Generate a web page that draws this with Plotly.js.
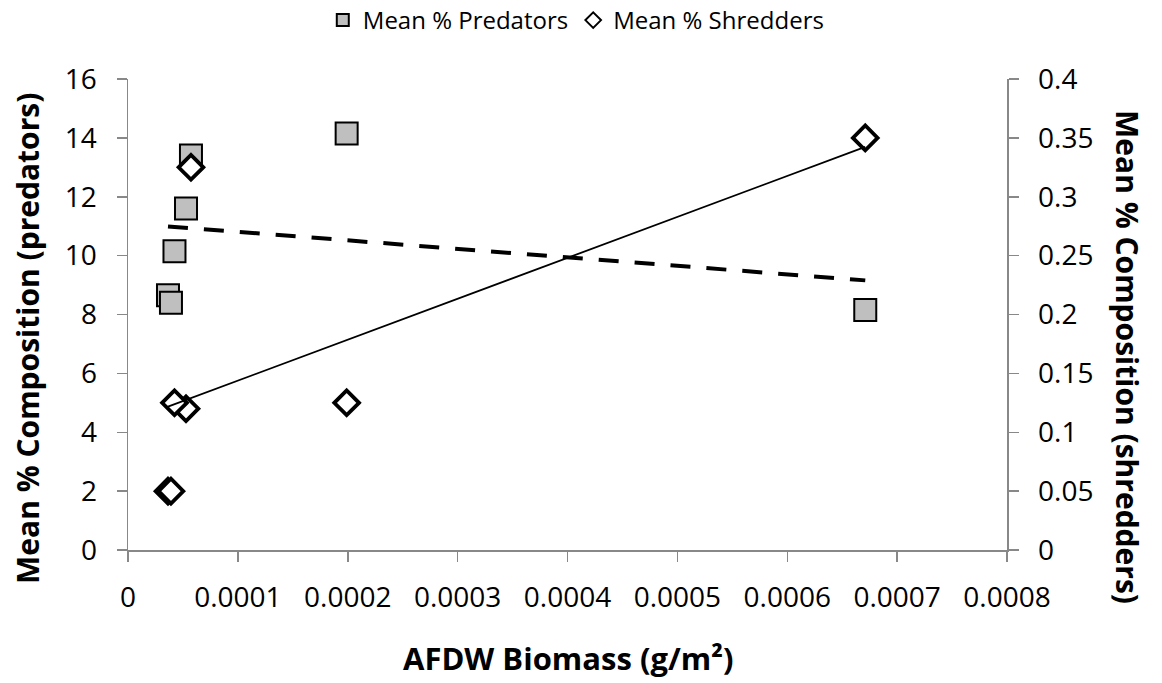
<!DOCTYPE html>
<html>
<head>
<meta charset="utf-8">
<script src="https://cdn.plot.ly/plotly-3.0.1.min.js"></script>
<style>html,body{margin:0;padding:0;background:#fff;}#chart{width:1162px;height:683px;}</style>
</head>
<body>
<div id="chart"></div>
<script>
// Data
var biomass = [0.0000573, 0.0000528, 0.0000423, 0.0000364, 0.0000391, 0.000199, 0.000671];
var predators = [13.4, 11.6, 10.15, 8.65, 8.4, 14.15, 8.15];
var shredders = [0.325, 0.12, 0.125, 0.05, 0.05, 0.125, 0.35];
var xTickVals = [0, 0.0001, 0.0002, 0.0003, 0.0004, 0.0005, 0.0006, 0.0007, 0.0008];
var xTickText = ["0", "0.0001", "0.0002", "0.0003", "0.0004", "0.0005", "0.0006", "0.0007", "0.0008"];
var yTickVals = [0, 2, 4, 6, 8, 10, 12, 14, 16];
var y2TickVals = [0, 0.05, 0.1, 0.15, 0.2, 0.25, 0.3, 0.35, 0.4];
var y2TickText = ["0", "0.05", "0.1", "0.15", "0.2", "0.25", "0.3", "0.35", "0.4"];

function linfit(xs, ys) {
  var n = xs.length, mx = 0, my = 0;
  for (var i = 0; i < n; i++) { mx += xs[i]; my += ys[i]; }
  mx /= n; my /= n;
  var sxy = 0, sxx = 0;
  for (var j = 0; j < n; j++) { sxy += (xs[j]-mx)*(ys[j]-my); sxx += (xs[j]-mx)*(xs[j]-mx); }
  var b = sxy / sxx, a = my - b*mx;
  var x0 = Math.min.apply(null, xs), x1 = Math.max.apply(null, xs);
  return {x: [x0, x1], y: [a + b*x0, a + b*x1]};
}
var fitP = linfit(biomass, predators);
var fitS = linfit(biomass, shredders);

var FONT = "Open Sans, Noto Sans, sans-serif";

var traces = [
  {x: biomass, y: predators, type: 'scatter', mode: 'markers', name: 'Mean % Predators',
   marker: {symbol: 'square', size: 22, color: '#BFBFBF', line: {color: '#000', width: 2}}},
  {x: fitP.x, y: fitP.y, type: 'scatter', mode: 'lines', showlegend: false, hoverinfo: 'skip',
   line: {color: '#000', width: 4, dash: '20px,16px'}},
  {x: biomass, y: shredders, type: 'scatter', mode: 'markers', name: 'Mean % Shredders', yaxis: 'y2',
   marker: {symbol: 'diamond', size: 19, color: '#fff', line: {color: '#000', width: 3.8}}},
  {x: fitS.x, y: fitS.y, type: 'scatter', mode: 'lines', showlegend: false, hoverinfo: 'skip', yaxis: 'y2',
   line: {color: '#000', width: 1.8}}
];

var axCommon = {
  showgrid: false, zeroline: false, showline: true, linecolor: '#888', linewidth: 1.5,
  ticks: 'outside', ticklen: 10, tickcolor: '#888', tickwidth: 1.5,
  tickfont: {family: FONT, size: 28, color: '#000'}, tickmode: 'array', fixedrange: true,
  automargin: false
};

var layout = {
  width: 1162, height: 683,
  margin: {l: 128, r: 155, t: 79, b: 133, pad: 0, autoexpand: false},
  paper_bgcolor: '#fff', plot_bgcolor: '#fff',
  font: {family: FONT, color: '#000'},
  showlegend: true,
  legend: {orientation: 'h', x: 0.51, xanchor: 'center', xref: 'paper', yref: 'container', y: 0.97, yanchor: 'middle',
           font: {family: FONT, size: 24, color: '#000'}, itemsizing: 'constant', itemwidth: 30, tracegroupgap: 0,
           bgcolor: 'rgba(0,0,0,0)'},
  xaxis: Object.assign({}, axCommon, {range: [0, 0.0008], tickvals: xTickVals, ticktext: xTickText,
           ticklabelstandoff: 12}),
  yaxis: Object.assign({}, axCommon, {range: [0, 16], tickvals: yTickVals, ticktext: yTickVals.map(String),
           ticklabelstandoff: 14}),
  yaxis2: Object.assign({}, axCommon, {range: [0, 0.4], overlaying: 'y', side: 'right',
           tickvals: y2TickVals, ticktext: y2TickText, ticklabelstandoff: 14}),
  annotations: [
    {text: 'AFDW Biomass (g/m²)', xref: 'paper', yref: 'paper', x: 0.5, y: -0.229, xanchor: 'center', yanchor: 'middle',
     showarrow: false, font: {family: FONT, size: 31, color: '#000', weight: 'bold'}},
    {text: 'Mean % Composition (predators)', xref: 'paper', yref: 'paper', x: 0, y: (550-339)/471, xanchor: 'center', yanchor: 'middle',
     xshift: -101, showarrow: false, textangle: -90, font: {family: FONT, size: 30, color: '#000', weight: 'bold'}},
    {text: 'Mean % Composition (shredders)', xref: 'paper', yref: 'paper', x: 1, y: (550-357)/471, xanchor: 'center', yanchor: 'middle',
     xshift: 121, showarrow: false, textangle: 90, font: {family: FONT, size: 30, color: '#000', weight: 'bold'}}
  ]
};

Plotly.newPlot('chart', traces, layout, {displayModeBar: false, staticPlot: true});
</script>
</body>
</html>
